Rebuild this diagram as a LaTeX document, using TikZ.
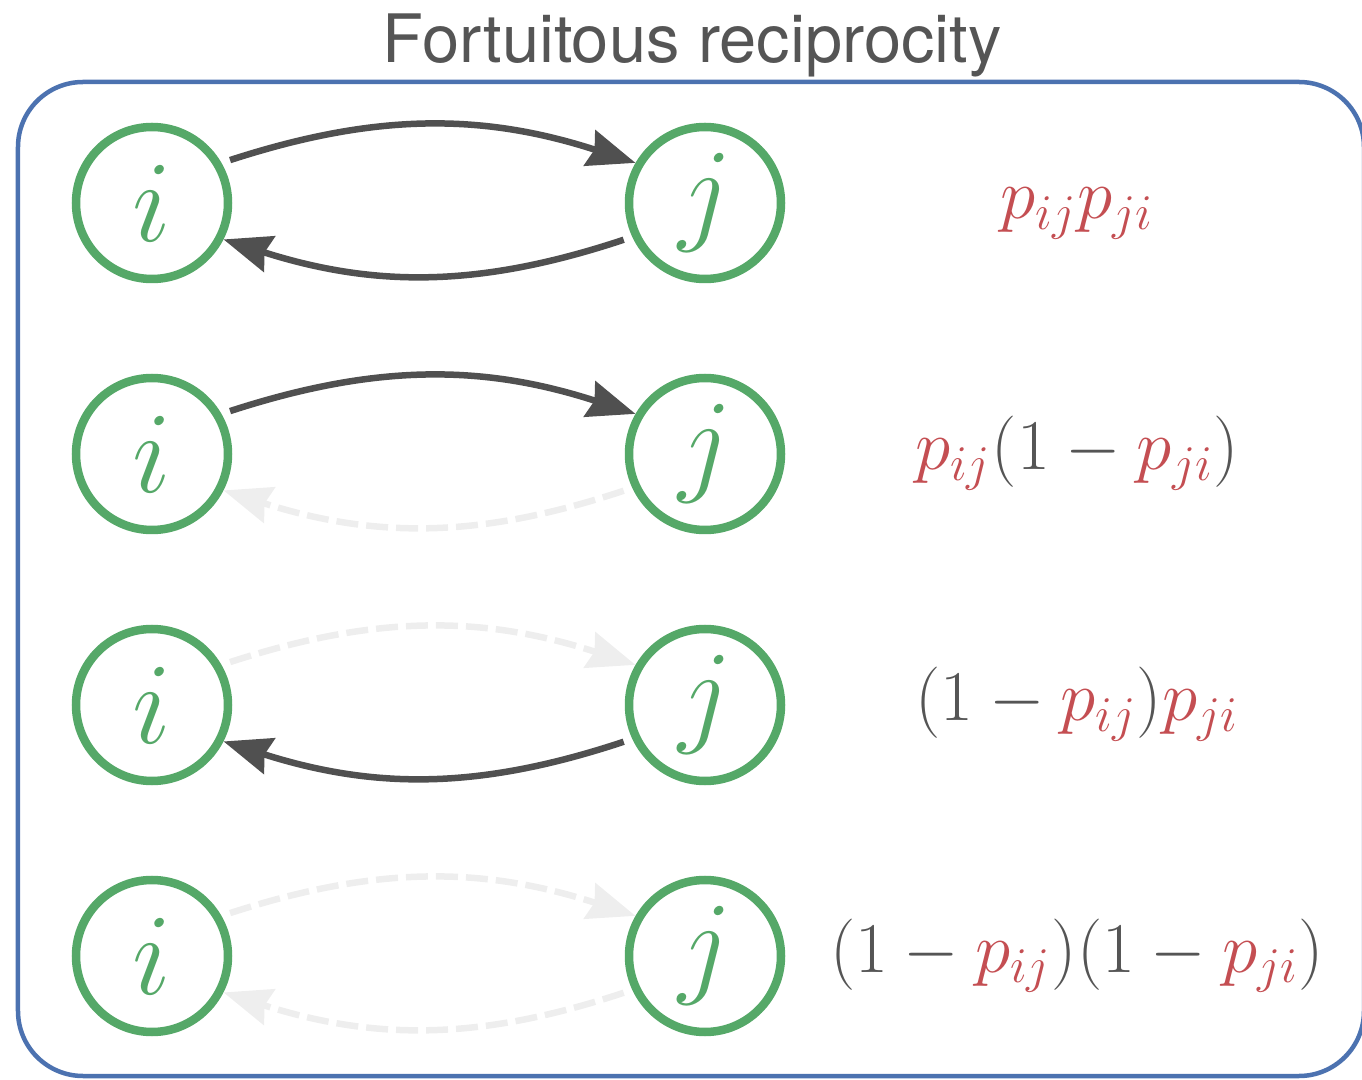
\RequirePackage{fix-cm}
\documentclass[tikz,border=0pt]{standalone}
\usepackage{fontspec}
\usepackage{tikz}
\usetikzlibrary{arrows.meta}
\newfontfamily\titlefont{TeX Gyre Heros}
\definecolor{sgreen}{HTML}{55A868}
\definecolor{sred}{HTML}{C44E52}
\definecolor{sblue}{HTML}{4C72B0}
\definecolor{dgray}{HTML}{505050}
\definecolor{txtgray}{HTML}{555555}
\definecolor{ghostgray}{HTML}{EEEEEE}
\newcommand{\redp}[1]{\textcolor{sred}{p_{#1}}}

\begin{document}
\begin{tikzpicture}[
  vtx/.style={circle, draw=sgreen, line width=0.085cm, minimum size=1.52cm, inner sep=0pt, text=sgreen, font=\fontsize{33}{40}\selectfont},
  link/.style={line width=0.065cm, -{Stealth[length=0.48cm, width=0.37cm, inset=0.05cm]}, shorten <=0.09cm},
  live/.style={link, draw=dgray},
  ghost/.style={link, draw=ghostgray, dash pattern=on 0.22cm off 0.08cm},
  prob/.style={anchor=base, text=txtgray, font=\fontsize{20.3}{24}\selectfont}]
  \useasboundingbox (0,0) rectangle (13.62,10.79);
  \node[font=\titlefont\fontsize{19}{23}\selectfont, text=txtgray, anchor=base] (title) at (6.92,10.16) {Fortuitous reciprocity};
  \draw[sblue, line width=0.045cm, rounded corners=0.65cm] (0.18,0.03) rectangle (13.64,9.97);
  \foreach \r/\y in {1/8.76, 2/6.25, 3/3.74, 4/1.23} {
    \node[vtx] (i\r) at (1.52,\y) {$i$};
    \node[vtx] (j\r) at (7.05,\y) {$j$};
  }
  % both ties present
  \draw[live] (i1.30) to[bend left=18] (j1.150);
  \draw[live] (j1.205) to[bend left=18] (i1.333);
  % only i -> j
  \draw[live] (i2.30) to[bend left=18] (j2.150);
  \draw[ghost] (j2.205) to[bend left=18] (i2.333);
  % only j -> i
  \draw[ghost] (i3.30) to[bend left=18] (j3.150);
  \draw[live] (j3.205) to[bend left=18] (i3.333);
  % neither
  \draw[ghost] (i4.30) to[bend left=18] (j4.150);
  \draw[ghost] (j4.205) to[bend left=18] (i4.333);
  \node[prob] (p1) at (10.77,8.60) {$\redp{ij}\redp{ji}$};
  \node[prob] (p2) at (10.77,6.09) {$\redp{ij}(1-\redp{ji})$};
  \node[prob] (p3) at (10.77,3.58) {$(1-\redp{ij})\redp{ji}$};
  \node[prob] (p4) at (10.77,1.07) {$(1-\redp{ij})(1-\redp{ji})$};
\end{tikzpicture}
\end{document}
